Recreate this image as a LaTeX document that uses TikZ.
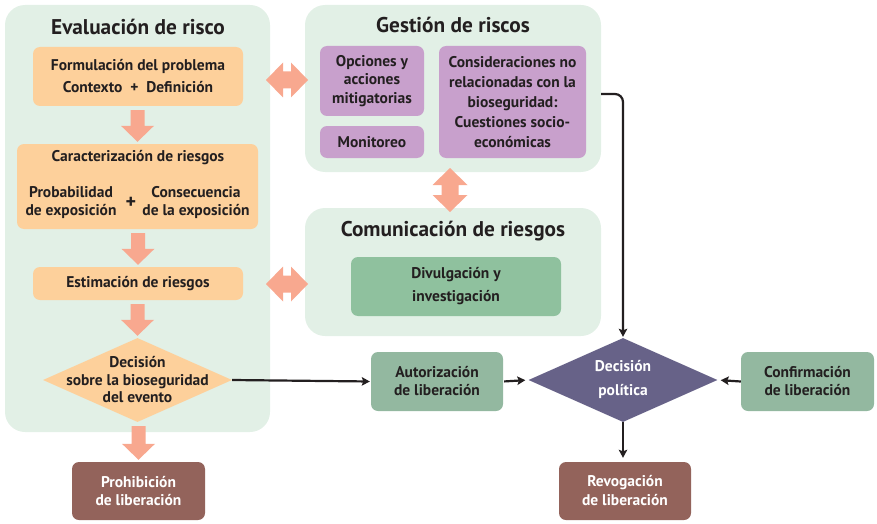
\documentclass[tikz,border=0pt]{standalone}
\usepackage{fontspec}
\setmainfont{PT Sans}
\usetikzlibrary{shapes.geometric,calc,arrows.meta}
\definecolor{panelbg}{HTML}{E2F0E6}
\definecolor{orbox}{HTML}{FDD09B}
\definecolor{blkc}{HTML}{F8A88F}
\definecolor{purp}{HTML}{C8A0CC}
\definecolor{grnbox}{HTML}{8FC19E}
\definecolor{gbox}{HTML}{93B8A0}
\definecolor{brn}{HTML}{93635B}
\definecolor{pol}{HTML}{676288}
\definecolor{txt}{HTML}{231F20}

\newcommand{\bfs}[1]{\bfseries\fontsize{15.5}{#1}\selectfont}

% block arrow down: #1 start anchor, #2 end anchor
\newcommand{\blkdown}[2]{%
  \coordinate (bdS) at ($(#1)+(0,4)$);
  \coordinate (bdE) at ($(#2)+(0,-2)$);
  \coordinate (bdT) at (bdS -| bdE);
  \fill[blkc] ($(bdT)+(-7,0)$) -- ($(bdT)+(7,0)$) -- ($(bdE)+(7,-16)$) -- ($(bdE)+(16.5,-16)$) -- (bdE)
    -- ($(bdE)+(-16.5,-16)$) -- ($(bdE)+(-7,-16)$) -- cycle;}
% horizontal double arrow: #1 left tip, #2 right tip
\newcommand{\dblh}[2]{%
  \fill[blkc] (#1) -- ($(#1)+(17,-17.5)$) -- ($(#1)+(17,-8.5)$) -- ($(#2)+(-17,-8.5)$) -- ($(#2)+(-17,-17.5)$)
    -- (#2) -- ($(#2)+(-17,17.5)$) -- ($(#2)+(-17,8.5)$) -- ($(#1)+(17,8.5)$) -- ($(#1)+(17,17.5)$) -- cycle;}
% vertical double arrow: #1 top tip, #2 bottom tip
\newcommand{\dblv}[2]{%
  \fill[blkc] (#1) -- ($(#1)+(17.5,17)$) -- ($(#1)+(8.5,17)$) -- ($(#2)+(8.5,-17)$) -- ($(#2)+(17.5,-17)$)
    -- (#2) -- ($(#2)+(-17.5,-17)$) -- ($(#2)+(-8.5,-17)$) -- ($(#1)+(-8.5,17)$) -- ($(#1)+(-17.5,17)$) -- cycle;}

\tikzset{
  panel/.style={fill=panelbg, rounded corners=20pt, inner sep=0pt},
  ptitle/.style={text=txt, font=\bfseries\fontsize{21.3}{24}\selectfont, inner sep=0pt},
  box/.style={rounded corners=7pt, inner sep=0pt, align=center, text=txt},
  obox/.style={box, fill=orbox},
  pbox/.style={box, fill=purp},
  gbx/.style={box, fill=gbox},
  bbox/.style={box, fill=brn, text=white},
  dia/.style={diamond, inner sep=0pt, minimum width=189pt, minimum height=84pt},
  lbl/.style={inner sep=0pt, align=center, text=txt},
  conn/.style={line width=2.2pt, draw=txt, -{Stealth[length=8pt,width=8.5pt,inset=1.5pt]}},
}

\begin{document}
\begin{tikzpicture}[x=1pt,y=-1pt]
\useasboundingbox (0,0) rectangle (877,524);

% panels
\node[panel, minimum width=265pt, minimum height=427pt] (evalp) at (137.5,218.5) {};
\node[panel, minimum width=296pt, minimum height=167pt] (gestp) at (453,88.5) {};
\node[panel, minimum width=296pt, minimum height=128pt] (commp) at (453,272) {};

\node[ptitle] (evalt) at (138,27) {Evaluación de risco};
\node[ptitle] (gestt) at (453,25) {Gestión de riscos};
\node[ptitle] (commt) at (453,231) {Comunicación de riesgos};

% evaluation column
\node[obox, minimum width=210pt, minimum height=59pt, font=\bfs{22}] (form) at (138,76.5)
  {Formulación del problema\\Contexto \ + \ Definición};
\node[obox, minimum width=241pt, minimum height=85pt] (car) at (137.5,186.5) {};
\node[lbl, font=\bfs{18}] (cart) at (138,158) {Caracterización de riesgos};
\node[lbl, font=\bfs{18}] (prob) at (71,203) {Probabilidad\\de exposición};
\node[lbl, font=\bfseries\fontsize{20}{22}\selectfont] (plus) at (131,203) {+};
\node[lbl, font=\bfs{18}] (cons) at (196,203) {Consecuencia\\de la exposición};
\node[obox, minimum width=210pt, minimum height=33pt, font=\bfs{18}] (est) at (138,283.5) {Estimación de riesgos};
\node[dia, fill=orbox] (dec1) at (137.5,380) {};
\node[lbl, font=\bfs{17.5}] (dec1t) at (137.5,380) {Decisión\\sobre la bioseguridad\\del evento};
\node[bbox, minimum width=133pt, minimum height=58pt, font=\bfs{17.5}] (proh) at (138.5,491) {Prohibición\\de liberación};

% management
\node[pbox, minimum width=104pt, minimum height=70pt, font=\bfs{18.5}] (opc) at (372,81) {Opciones y\\acciones\\mitigatorias};
\node[pbox, minimum width=104pt, minimum height=32pt, font=\bfs{18}] (mon) at (372,142) {Monitoreo};
\node[pbox, minimum width=147pt, minimum height=112pt, font=\bfs{19.8}] (consid) at (512.5,102)
  {Consideraciones no\\relacionadas con la\\bioseguridad:\\Cuestiones socio-\\económicas};

% communication
\node[box, fill=grnbox, minimum width=210pt, minimum height=59pt, font=\bfs{23}] (div) at (456,286.5) {Divulgación y\\investigación};

% bottom right
\node[gbx, minimum width=132pt, minimum height=59pt, font=\bfs{18}] (aut) at (437,381.5) {Autorización\\de liberación};
\node[dia, fill=pol] (dec2) at (623,380) {};
\node[lbl, text=white, font=\bfs{24}] (dec2t) at (623,379) {Decisión\\política};
\node[gbx, minimum width=133pt, minimum height=59pt, font=\bfs{18}] (conf) at (807.5,381.5) {Confirmación\\de liberación};
\node[bbox, minimum width=132pt, minimum height=58pt, font=\bfs{19}] (rev) at (625,491) {Revogación\\de liberación};

% block arrows
\blkdown{form.south}{car.north}
\blkdown{car.south}{est.north}
\blkdown{est.south}{dec1.north}
\blkdown{dec1.south}{proh.north}

\coordinate (h1a) at (266,80);
\coordinate (h1b) at (308,80);
\coordinate (h2a) at (266,284);
\coordinate (h2b) at (308,284);
\coordinate (v1a) at (450,168);
\coordinate (v1b) at (450,212);
\dblh{h1a}{h1b}
\dblh{h2a}{h2b}
\dblv{v1a}{v1b}

% connectors
\draw[conn, shorten >=1pt] (dec1.east) -- (aut.west);
\draw[conn, shorten <=1pt, shorten >=3pt] (aut.east) -- (dec2.west);
\draw[conn, shorten >=3pt] (conf.west) -- (dec2.east);
\draw[conn, shorten >=4pt] (dec2.south) -- (dec2.south |- rev.north);
\coordinate (gs) at (601,94);
\draw[conn, rounded corners=8pt, shorten >=1pt] (gs) -| (dec2.north);
\end{tikzpicture}
\end{document}
